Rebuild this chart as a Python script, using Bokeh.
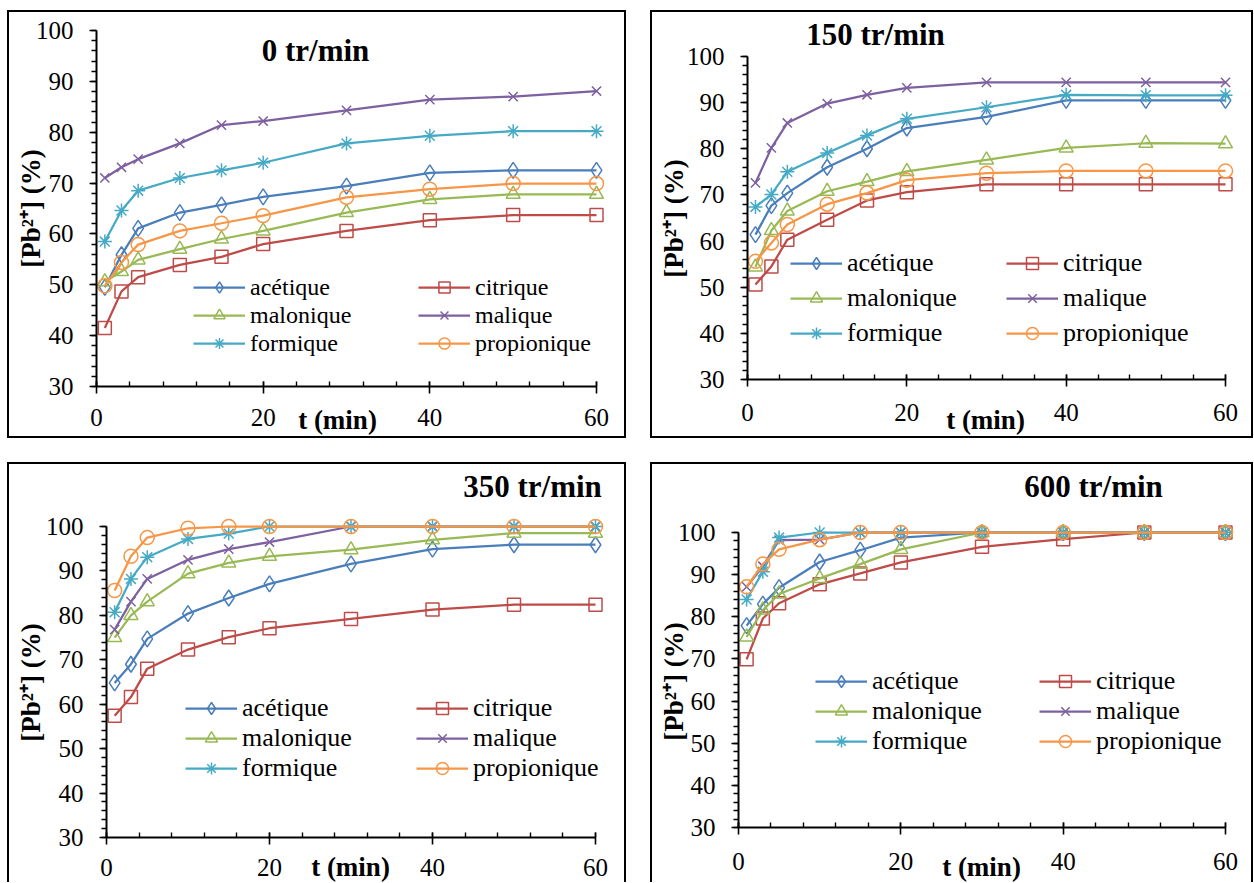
import numpy as np
from bokeh.plotting import figure
from bokeh.layouts import row, column
from bokeh.models import Range1d, FixedTicker, Label, Legend, LegendItem
from bokeh.embed import file_html
from bokeh.resources import INLINE

# ---------------- data ----------------
t_min = [1, 3, 5, 10, 15, 20, 30, 40, 50, 60]
acids = ["acétique", "citrique", "malonique", "malique", "formique", "propionique"]
speeds = ["0 tr/min", "150 tr/min", "350 tr/min", "600 tr/min"]

acetique_0 = [49.5, 55.9, 61.1, 64.2, 65.7, 67.3, 69.4, 72.0, 72.5, 72.5]
citrique_0 = [41.5, 48.7, 51.5, 53.9, 55.5, 58.0, 60.6, 62.7, 63.7, 63.7]
malonique_0 = [50.6, 52.6, 54.9, 57.0, 59.0, 60.6, 64.2, 66.8, 67.8, 67.8]
malique_0 = [71.0, 73.1, 74.7, 77.8, 81.4, 82.2, 84.3, 86.4, 87.0, 88.1]
formique_0 = [58.5, 64.6, 68.5, 71.0, 72.5, 74.0, 77.8, 79.3, 80.2, 80.2]
propionique_0 = [49.8, 54.4, 57.9, 60.6, 62.1, 63.6, 67.2, 68.8, 69.9, 69.9]

acetique_150 = [61.4, 67.7, 70.4, 76.0, 80.0, 84.5, 86.9, 90.5, 90.5, 90.5]
citrique_150 = [50.6, 54.5, 60.3, 64.6, 68.8, 70.6, 72.3, 72.3, 72.3, 72.3]
malonique_150 = [54.4, 62.3, 66.5, 70.8, 72.9, 75.1, 77.6, 80.2, 81.2, 81.1]
malique_150 = [72.6, 80.2, 85.6, 89.8, 91.7, 93.2, 94.4, 94.4, 94.4, 94.4]
formique_150 = [67.4, 70.1, 75.0, 79.1, 82.9, 86.5, 89.0, 91.7, 91.6, 91.6]
propionique_150 = [55.6, 59.6, 63.6, 68.0, 70.4, 73.2, 74.7, 75.2, 75.2, 75.2]

acetique_350 = [64.8, 69.0, 74.7, 80.4, 83.9, 87.1, 91.6, 94.9, 95.9, 95.9]
citrique_350 = [57.4, 61.6, 68.0, 72.3, 75.1, 77.1, 79.2, 81.3, 82.4, 82.4]
malonique_350 = [75.0, 80.0, 83.1, 89.4, 91.8, 93.3, 94.8, 97.0, 98.5, 98.5]
malique_350 = [76.8, 83.1, 88.2, 92.5, 94.9, 96.5, 100, 100, 100, 100]
formique_350 = [80.7, 88.2, 93.1, 97.2, 98.4, 100, 100, 100, 100, 100]
propionique_350 = [85.6, 93.3, 97.5, 99.6, 100, 100, 100, 100, 100, 100]

acetique_600 = [77.9, 83.0, 86.9, 93.0, 95.8, 98.8, 100, 100, 100, 100]
citrique_600 = [69.9, 79.6, 83.2, 87.7, 90.3, 92.9, 96.6, 98.4, 100, 100]
malonique_600 = [75.2, 81.6, 85.4, 89.1, 92.5, 96.0, 100, 100, 100, 100]
malique_600 = [87.1, 92.0, 98.2, 98.3, 100, 100, 100, 100, 100, 100]
formique_600 = [84.1, 90.7, 98.8, 100, 100, 100, 100, 100, 100, 100]
propionique_600 = [87.1, 92.5, 96.0, 98.3, 100, 100, 100, 100, 100, 100]

x_ticks = [0, 20, 40, 60]
y_ticks = [30, 40, 50, 60, 70, 80, 90, 100]

panel_data = [
    [acetique_0, citrique_0, malonique_0, malique_0, formique_0, propionique_0],
    [acetique_150, citrique_150, malonique_150, malique_150, formique_150, propionique_150],
    [acetique_350, citrique_350, malonique_350, malique_350, formique_350, propionique_350],
    [acetique_600, citrique_600, malonique_600, malique_600, formique_600, propionique_600],
]

# ---------------- styles ----------------
colors = ["#4A7EBB", "#BE4B48", "#98B954", "#7D60A0", "#46AAC5", "#F79646"]
markers = ["diamond", "square", "triangle", "x", "asterisk", "circle"]
sizes = [16, 13, 14, 13, 14, 14]
FONT = "Liberation Serif"

# page-pixel geometry of every panel
# fig: x0, y0, w, h ; axes: left(x=0), right(x=60), top(y=100), bottom(y=30)
geom = [
    dict(x0=7, y0=10, w=619, h=428, L=96, R=596, T=30, B=386, xstand=15,
         title=(315, 50), xlab=(337, 419), ylab=(30, 208),
         leg=((193, 418), 287, 27.5), legfont=24, gh=28, border="all"),
    dict(x0=650, y0=10, w=603, h=428, L=747, R=1225, T=56, B=379, xstand=17,
         title=(875, 34), xlab=(985, 419), ylab=(673, 218),
         leg=((790, 1006), 263, 35), legfont=26, gh=30, border="all"),
    dict(x0=7, y0=462, w=619, h=420, L=106, R=595, T=526, B=837, xstand=14,
         title=(532, 486), xlab=(350, 866), ylab=(30, 682),
         leg=((185, 416), 708, 29.5), legfont=26, gh=30, border="open"),
    dict(x0=650, y0=462, w=603, h=420, L=738, R=1225, T=532, B=827, xstand=18,
         title=(1093, 486), xlab=(981, 866), ylab=(673, 681),
         leg=((815, 1039), 681, 29.5), legfont=26, gh=30, border="open"),
]

figs = []
for k, g in enumerate(geom):
    ppx = (g["R"] - g["L"]) / 60.0
    ppy = (g["B"] - g["T"]) / 70.0
    x_start = -(g["L"] - g["x0"]) / ppx
    x_end = 60 + (g["x0"] + g["w"] - g["R"]) / ppx
    y_start = 30 - (g["y0"] + g["h"] - g["B"]) / ppy
    y_end = 100 + (g["T"] - g["y0"]) / ppy

    def to_data(px, py, g=g, ppx=ppx, ppy=ppy):
        return (px - g["L"]) / ppx, 30 + (g["B"] - py) / ppy

    if g["border"] == "all":
        shadow = "inset 0 0 0 2px #000"
    else:
        shadow = "inset 2px 0 0 0 #000, inset -2px 0 0 0 #000, inset 0 2px 0 0 #000"

    p = figure(width=g["w"], height=g["h"], output_backend="svg", toolbar_location=None,
               x_range=Range1d(x_start, x_end), y_range=Range1d(y_start, y_end),
               min_border=0, min_border_left=0, min_border_right=0,
               min_border_top=0, min_border_bottom=0,
               styles={"box-shadow": shadow})
    p.title = None
    p.border_fill_alpha = 0
    p.background_fill_alpha = 0
    p.outline_line_color = None
    p.grid.visible = False

    xa = p.xaxis[0]
    xa.fixed_location = 30
    xa.ticker = FixedTicker(ticks=x_ticks, minor_ticks=list(range(0, 61, 4)))
    xa.bounds = (0, 60)
    xa.major_tick_in = 5
    xa.major_tick_out = 7
    xa.minor_tick_in = 5
    xa.minor_tick_out = 0
    xa.major_label_standoff = g["xstand"]

    ya = p.yaxis[0]
    ya.fixed_location = 0
    ya.ticker = FixedTicker(ticks=y_ticks, minor_ticks=list(range(30, 101, 2)))
    ya.bounds = (30, 100)
    ya.major_tick_in = 0
    ya.major_tick_out = 7
    ya.minor_tick_in = 0
    ya.minor_tick_out = 5
    ya.major_label_standoff = 16

    for ax in (xa, ya):
        ax.axis_line_color = "black"
        ax.axis_line_width = 2
        ax.major_tick_line_width = 1.6
        ax.minor_tick_line_width = 1.4
        ax.major_tick_line_color = "black"
        ax.minor_tick_line_color = "black"
        ax.major_label_text_font = FONT
        ax.major_label_text_font_size = "25px"
        ax.major_label_text_color = "black"

    items = []
    for i, name in enumerate(acids):
        vals = panel_data[k][i]
        ln = p.line(t_min, vals, line_color=colors[i], line_width=2.25)
        sc = p.scatter(t_min, vals, marker=markers[i], size=sizes[i],
                       line_color=colors[i], line_width=1.5, fill_alpha=0)
        items.append(LegendItem(label=name, renderers=[ln, sc]))

    (c1, c2), row1, pitch = g["leg"]
    gh = g["gh"]
    sp = max(0, int(round(pitch - gh)))
    top = row1 - gh / 2
    height = 3 * gh + 2 * sp
    vy = (g["y0"] + g["h"]) - (top + height)
    for col, xs in ((0, c1), (1, c2)):
        lg = Legend(items=[items[col], items[col + 2], items[col + 4]],
                    location=(xs - g["x0"], vy), orientation="vertical",
                    padding=0, margin=0, spacing=sp,
                    glyph_width=52, glyph_height=gh, label_height=gh,
                    label_standoff=5, border_line_color=None,
                    background_fill_alpha=0,
                    label_text_font=FONT, label_text_font_size=f"{g['legfont']}px",
                    label_text_color="black")
        p.add_layout(lg, "center")

    tx, ty = to_data(*g["title"])
    p.add_layout(Label(x=tx, y=ty, text=speeds[k], text_font=FONT, text_font_size="31px",
                       text_font_style="bold", text_align="center", text_baseline="middle",
                       text_color="black"))
    lx, ly = to_data(*g["xlab"])
    p.add_layout(Label(x=lx, y=ly, text="t (min)", text_font=FONT, text_font_size="27px",
                       text_font_style="bold", text_align="center", text_baseline="middle",
                       text_color="black"))
    yx, yy = to_data(*g["ylab"])
    p.add_layout(Label(x=yx, y=yy, text="[Pb²⁺] (%)", angle=np.pi / 2, text_font=FONT,
                       text_font_size="27px", text_font_style="bold", text_align="center",
                       text_baseline="middle", text_color="black"))
    figs.append(p)

layout = column(row(figs[0], figs[1], spacing=24), row(figs[2], figs[3], spacing=24),
                spacing=24, margin=(10, 0, 0, 7))

open("out.html", "w").write(file_html(layout, INLINE))
